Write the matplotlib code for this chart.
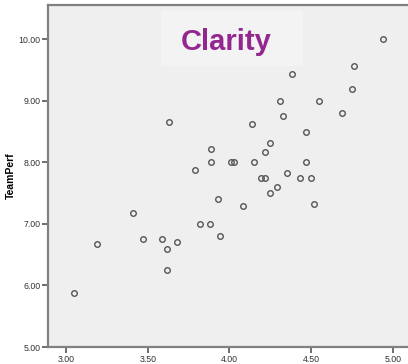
import matplotlib
matplotlib.use("Agg")
import matplotlib.pyplot as plt
from matplotlib.patches import Rectangle

# Clarity score vs team performance
clarity = [4.94, 4.76, 4.38, 4.75, 4.31, 4.55, 4.33, 4.69, 3.63, 4.14,
           4.47, 4.25, 3.89, 4.22, 3.89, 4.01, 4.03, 4.15, 4.47, 3.79,
           4.35, 4.19, 4.22, 4.43, 4.50, 4.29, 4.25, 3.93, 4.52, 4.08,
           3.41, 3.82, 3.88, 3.94, 3.47, 3.59, 3.68, 3.19, 3.62, 3.62,
           3.05]
team_perf = [10.00, 9.57, 9.44, 9.20, 9.00, 9.00, 8.75, 8.80, 8.66, 8.62,
             8.50, 8.31, 8.22, 8.17, 8.00, 8.00, 8.00, 8.00, 8.00, 7.88,
             7.83, 7.75, 7.75, 7.75, 7.75, 7.60, 7.50, 7.40, 7.33, 7.29,
             7.17, 7.00, 7.00, 6.80, 6.75, 6.75, 6.71, 6.67, 6.60, 6.25,
             5.88]

xticks = [3.0, 3.5, 4.0, 4.5, 5.0]
yticks = [5.0, 6.0, 7.0, 8.0, 9.0, 10.0]

fig = plt.figure(figsize=(4.08, 3.64), dpi=100)
ax = fig.add_axes([0.1176, 0.0467, 0.8824, 0.9396])
ax.set_facecolor('#efefef')

ax.plot(clarity, team_perf, 'o', markersize=4, markerfacecolor='none',
        markeredgecolor='#555555', markeredgewidth=1.0)

ax.set_xlim(2.89, 5.092)
ax.set_ylim(5.0, 10.557)
ax.set_xticks(xticks)
ax.set_yticks(yticks)
ax.set_xticklabels([f"{v:.2f}" for v in xticks])
ax.set_yticklabels([f"{v:.2f}" for v in yticks])

tick_font = ['Liberation Sans Narrow', 'Liberation Sans', 'DejaVu Sans']
for lbl in ax.get_xticklabels() + ax.get_yticklabels():
    lbl.set_family(tick_font)
    lbl.set_fontsize(6.3)
    lbl.set_color('#333333')
ax.tick_params(length=4, width=1.2, color='#555555', pad=1.5)

for side in ['left', 'bottom', 'top']:
    ax.spines[side].set_color('#808080')
    ax.spines[side].set_linewidth(1.6)
ax.spines['right'].set_visible(False)

ax.set_ylabel('TeamPerf', fontsize=7.5, fontweight='bold',
              family=['Liberation Sans', 'DejaVu Sans'], labelpad=2)

# title box inside the plot area
ax.add_patch(Rectangle((0.3147, 0.821), 0.395, 0.16, transform=ax.transAxes,
                       facecolor='#f3f3f3', edgecolor='none', zorder=1))
ax.text(0.4955, 0.893, 'Clarity', transform=ax.transAxes, ha='center',
        va='center', fontsize=21, fontweight='bold', color='#93278f',
        family=['Liberation Sans', 'DejaVu Sans'], zorder=2)

fig.savefig('out.png', dpi=100)
